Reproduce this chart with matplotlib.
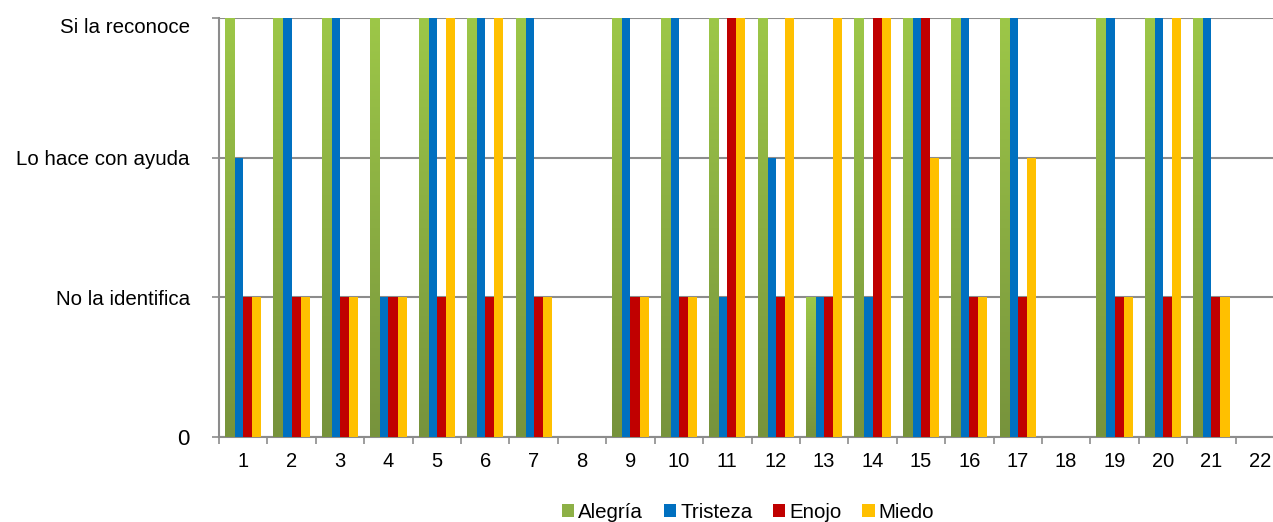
import numpy as np
import matplotlib
matplotlib.use("Agg")
from matplotlib import pyplot as plt
from matplotlib.colors import LinearSegmentedColormap

plt.rcParams['font.family'] = ['Liberation Sans', 'DejaVu Sans']

categories = [str(i) for i in range(1, 23)]
alegria  = [3, 3, 3, 3, 3, 3, 3, 0, 3, 3, 3, 3, 1, 3, 3, 3, 3, 0, 3, 3, 3, 0]
tristeza = [2, 3, 3, 1, 3, 3, 3, 0, 3, 3, 1, 2, 1, 1, 3, 3, 3, 0, 3, 3, 3, 0]
enojo    = [1, 1, 1, 1, 1, 1, 1, 0, 1, 1, 3, 1, 1, 3, 3, 1, 1, 0, 1, 1, 1, 0]
miedo    = [1, 1, 1, 1, 3, 3, 1, 0, 1, 1, 3, 3, 3, 3, 2, 1, 2, 0, 1, 3, 1, 0]
series_names = ['Alegría', 'Tristeza', 'Enojo', 'Miedo']
y_labels = ['0', 'No la identifica', 'Lo hace con ayuda', 'Si la reconoce']

colors = ['#8DB046', '#0070C0', '#C00000', '#FFC000']
green_grad = LinearSegmentedColormap.from_list('g', ['#77933C', '#9DC748'])

W, H = 1273, 522
fig = plt.figure(figsize=(W / 100, H / 100), dpi=100)
ax = fig.add_axes([219 / W, 85 / H, 1065 / W, 419 / H])

x = np.arange(1, len(categories) + 1)
w = 0.1875
data = [alegria, tristeza, enojo, miedo]
for k, (vals, name, c) in enumerate(zip(data, series_names, colors)):
    pos = x + (k - 1.5) * w
    bars = ax.bar(pos, vals, width=w, color=c, label=name, zorder=3, linewidth=0)
    if k == 0:
        grad = np.linspace(0, 1, 256).reshape(-1, 1)
        for b in bars:
            h = b.get_height()
            if h <= 0:
                continue
            x0 = b.get_x()
            ax.imshow(grad, cmap=green_grad, origin='lower', aspect='auto',
                      extent=(x0, x0 + w, 0, h), zorder=3.5, vmin=0, vmax=1)

ax.set_xlim(0.5, len(categories) + 0.5)
ax.set_ylim(0, 3)

ax.set_yticks([0, 1, 2, 3])
ax.set_yticklabels(y_labels, fontsize=14.8)
ax.get_yticklabels()[0].set_fontsize(16)
ax.yaxis.grid(True, color='#8C8C8C', linewidth=1.5, zorder=1)
ax.tick_params(axis='y', length=5, color='#8C8C8C', width=1.2, pad=16)

ax.set_xticks(x)
ax.set_xticklabels(categories, fontsize=14.5)
ax.set_xticks(np.arange(0.5, len(categories) + 1, 1), minor=True)
ax.tick_params(axis='x', which='major', length=0, pad=11)
ax.tick_params(axis='x', which='minor', length=5, color='#8C8C8C', width=1.2)

for s in ['top', 'right']:
    ax.spines[s].set_visible(False)
for s in ['left', 'bottom']:
    ax.spines[s].set_color('#8C8C8C')
    ax.spines[s].set_linewidth(1.5)
ax.set_axisbelow(True)

fig.legend(loc='center', bbox_to_anchor=(748 / W, 1 - 512 / H), ncol=4,
           frameon=False, fontsize=14.8, handlelength=0.6, handleheight=0.6,
           handletextpad=0.2, columnspacing=1.0, borderpad=0)

# top label sits a little below its gridline in the original
ax.yaxis.get_major_ticks()[3].label1.set_verticalalignment('top')

fig.savefig('out.png', dpi=100)
